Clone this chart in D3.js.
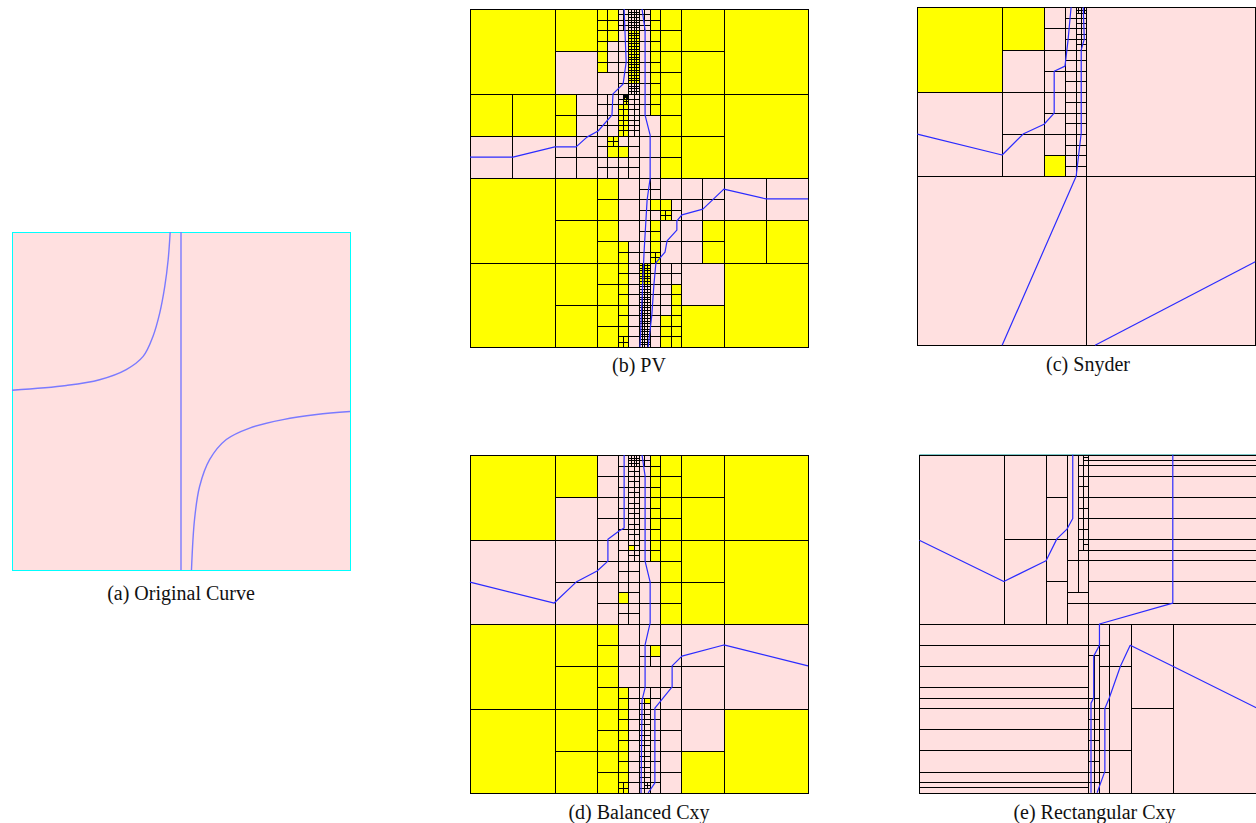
<!DOCTYPE html>
<html>
<head>
<meta charset="utf-8">
<script src="https://cdn.jsdelivr.net/npm/d3@7"></script>
<style>
  body { margin: 0; background: #fff; }
  svg { display: block; }
</style>
</head>
<body>
<svg id="fig" width="1256" height="823"></svg>
<script>
// ---------------------------------------------------------------------------
// Data
// ---------------------------------------------------------------------------

// Original implicit curve, sampled in unit coordinates (x right, y down).
const curveLeftBranch  = [[0,0.468],[0.161,0.454],[0.259,0.437],[0.338,0.407],[0.388,0.368],
                          [0.417,0.309],[0.437,0.24],[0.452,0.161],[0.462,0.082],[0.468,0]];
const curveRightBranch = [[0.531,1],[0.54,0.851],[0.555,0.753],[0.585,0.673],[0.634,0.614],
                          [0.703,0.580],[0.802,0.555],[0.901,0.540],[1,0.531]];
const curveVertical    = [[0.5,0],[0.5,1]];

// Quadtree subdivisions, serialised depth-first (children: TL, TR, BL, BR).
// S = split, Y = yellow leaf, P = pink leaf,
// 1 / 2 = pink cell split uniformly 1 / 2 levels, y / z = same for yellow.
const pvTree = [
  "S",
  "S Y (S Y (S y (S 1 2 1 2) (S Y Y Y P) (S P z P z)) P (S (S Y P Y P) (S P z P z) P (S P z P 2)))" +
  " (S Y Y P P) (S (S Y P Y P) (S 1 (S (S P z P y) 1 y 1) 1 (S y 1 y 1)) 1 (S (S P y P Y) (S P P Y P) 1 1))",
  "S (S (S (S 1 Y 1 Y) Y (S P Y P Y) Y) Y (S (S P Y P Y) Y (S P Y P Y) Y) Y) Y" +
  " (S (S (S P Y P Y) Y P Y) Y (S P Y P Y) Y) Y",
  "S Y (S Y (S Y P Y P) Y (S Y P Y (S Y P Y P))) Y" +
  " (S Y (S Y (S Y P Y P) Y (S Y P Y P)) Y (S Y (S Y P Y P) Y (S Y P y P)))",
  "S (S (S 1 P (S P Y P P) (S Y P y P)) 1 (S (S P Y P Y) P (S P Y P y) P) (S P Y P Y))" +
  " (S P P Y Y) (S (S (S z P z P) 1 (S 2 P 2 P) (S P Y P Y)) P" +
  " (S (S 2 P 2 P) (S P Y Y Y) (S 2 P 2 P) y) Y) Y"
];

const snyderTree = [
  "S",
  "S Y (S Y (S P (S P (S 1 1 P P) P 1) P (S P 1 P 1)) P (S P 1 P 1)) P (S P (S P 1 P 1) P (S P 1 Y 1))",
  "P", "P", "P"
];

const balancedTree = [
  "S",
  "S Y (S Y (S P (S P 2 P 1) P (S P 1 P 1)) P (S P (S P 1 P 1) P (S P 1 P 1))) P" +
  " (S P (S P (S P (S P P Y P) P 1) P 1) P (S P (S P P Y P) P 1))",
  "S (S (S (S 1 Y P Y) Y (S P Y P Y) Y) Y (S (S P Y P Y) Y (S P Y P Y) Y) Y) Y" +
  " (S (S (S P Y P Y) Y P Y) Y (S P Y P Y) Y) Y",
  "S Y (S Y (S Y P Y P) Y (S Y P Y (S Y P Y P))) Y" +
  " (S Y (S Y (S Y P Y P) Y (S Y P Y P)) Y (S Y (S Y P Y P) Y (S Y P y P)))",
  "S (S (S P P (S P Y P P) P) P (S P P (S P P (S P Y P P) P) P) P) P" +
  " (S (S (S 1 P 1 P) P (S 1 P 1 P) P) P (S (S 1 P 1 P) P (S 1 P (S P 1 P P) P) P) Y) Y"
];

// Rectangular Cxy cells, [x0, y0, x1, y1] on a 64 x 64 grid.
const rectUpperLeftCells = [
  [0,0,16,32],
  [16,0,24,16],[16,16,24,32],
  [24,0,28,8],[24,8,28,16],[24,16,28,24],[24,24,28,32],
  [28,0,30,20],[28,20,30,26],[28,26,32,28],[28,28,32,32],
  [30,0,31,2],[30,2,31,4],[30,4,31,6],[30,6,31,8],[30,8,31,10],[30,10,31,12],
  [30,12,31,14],[30,14,31,16],[30,16,31,18],
  [31,0,32,0.5],[31,0.5,32,1],[31,1,32,2],[31,2,32,4],[31,4,32,6],[31,6,32,8],
  [31,8,32,10],[31,10,32,12],[31,12,32,14],[31,14,32,16],[31,16,32,17],[31,17,32,18],
  [30,18,32,20],[30,20,32,26]
];
const rectUpperRightRows = [0,1,2,4,8,12,16,18,20,24,28,32];      // strips over x 32..64
const rectLowerLeftRows  = [32,36,40,44,46,48,52,56,60,62,63,64];  // strips over x 0..32
const rectLowerRightCells = [
  [32,32,36,36],[32,36,34,38],[34,36,36,40],[32,38,33,46],[33,38,34,46],[34,40,36,48],
  [32,46,33,48],[33,46,34,48],
  [32,48,33,50],[33,48,34,50],[32,50,33,52],[33,50,34,52],[32,52,33,54],[33,52,34,54],
  [32,54,33,56],[33,54,34,56],[32,56,33,58],[33,56,34,58],[32,58,33,60],[33,58,34,60],
  [32,60,33,62],[33,60,34,62],[32,62,33,64],[33,62,34,64],
  [34,48,36,52],[34,52,36,56],[34,56,36,60],[34,60,36,64],
  [36,32,40,40],[36,40,40,56],[36,56,40,64],
  [40,32,48,48],[40,48,48,64],
  [48,32,64,64]
];

// Piecewise-linear approximations, unit coordinates.
const pvLines = [
  [[0.456,0],[0.462,0.157],[0.453,0.222],[0.423,0.251],[0.420,0.314],[0.379,0.361],
   [0.346,0.379],[0.314,0.408],[0.251,0.408],[0.127,0.438],[0,0.438]],
  [[0.509,0],[0.518,0.062],[0.518,0.314],[0.533,0.373],[0.533,0.5],[0.524,0.565],
   [0.515,0.719],[0.509,0.861],[0.503,1]],
  [[1,0.562],[0.876,0.562],[0.751,0.533],[0.689,0.592],[0.627,0.609],[0.612,0.627],
   [0.612,0.654],[0.583,0.686],[0.577,0.719],[0.550,0.751],[0.544,0.817],[0.538,0.905],[0.527,1]]
];
const snyderLines = [
  [[0.455,0],[0.446,0.097],[0.437,0.174],[0.405,0.189],[0.405,0.313],[0.375,0.346],
   [0.313,0.375],[0.251,0.437],[0,0.375]],
  [[0.491,0],[0.494,0.094],[0.485,0.126],[0.485,0.372],[0.470,0.5],[0.251,1]],
  [[0.526,1],[1,0.753]]
];
const balancedLines = [
  [[0.456,0],[0.456,0.216],[0.441,0.225],[0.408,0.249],[0.408,0.314],[0.376,0.343],
   [0.314,0.376],[0.249,0.438],[0,0.376]],
  [[0.509,0],[0.518,0.062],[0.518,0.314],[0.533,0.376],[0.533,0.497],[0.518,0.562],
   [0.518,0.689],[0.509,0.725],[0.506,1]],
  [[1,0.624],[0.751,0.562],[0.627,0.595],[0.598,0.624],[0.598,0.686],[0.547,0.749],
   [0.547,0.970],[0.527,1]]
];
const rectLines = [
  [[0.454,0],[0.454,0.189],[0.437,0.220],[0.407,0.249],[0.375,0.314],[0.250,0.375],[0,0.253]],
  [[0.750,0],[0.750,0.439],[0.533,0.501],[0.533,0.564],[0.516,0.596],[0.516,0.720],
   [0.508,0.735],[0.508,1]],
  [[1,0.75],[0.750,0.626],[0.624,0.564],[0.595,0.626],[0.562,0.720],[0.549,0.751],
   [0.549,0.937],[0.526,1]]
];

const captions = ["(a) Original Curve","(b) PV","(c) Snyder","(d) Balanced Cxy","(e) Rectangular Cxy"];

// ---------------------------------------------------------------------------
// Drawing
// ---------------------------------------------------------------------------
const PINK = "#ffe0e0", YELLOW = "#ffff00", EDGE = "#000", INK = "#2b2bff",
      CURVE = "#7a7aff";
const SIZE = 338;

const svg = d3.select("#fig");
svg.append("rect").attr("width", 1256).attr("height", 823).attr("fill", "#fff");

function expandTree(parts) {
  const s = parts.join("").replace(/[\s()]/g, "");
  let i = 0;
  const out = [];
  function uniform(x, y, size, levels, kind) {
    if (levels === 0) { out.push({x, y, size, kind}); return; }
    const h = size / 2;
    uniform(x, y, h, levels - 1, kind);
    uniform(x + h, y, h, levels - 1, kind);
    uniform(x, y + h, h, levels - 1, kind);
    uniform(x + h, y + h, h, levels - 1, kind);
  }
  function node(x, y, size) {
    const c = s[i++];
    switch (c) {
      case "S": {
        const h = size / 2;
        node(x, y, h); node(x + h, y, h); node(x, y + h, h); node(x + h, y + h, h);
        break;
      }
      case "Y": out.push({x, y, size, kind: "Y"}); break;
      case "P": out.push({x, y, size, kind: "P"}); break;
      case "1": uniform(x, y, size, 1, "P"); break;
      case "2": uniform(x, y, size, 2, "P"); break;
      case "y": uniform(x, y, size, 1, "Y"); break;
      case "z": uniform(x, y, size, 2, "Y"); break;
      default: throw new Error("unexpected token " + c + " at " + i);
    }
  }
  node(0, 0, 1);
  if (i !== s.length) throw new Error("unused tokens: " + (s.length - i));
  return out.map(d => ({x0: d.x, y0: d.y, x1: d.x + d.size, y1: d.y + d.size, kind: d.kind}));
}

function makePanel(x0, y0, domainMax) {
  const sx = d3.scaleLinear().domain([0, domainMax]).range([x0, x0 + SIZE]);
  const sy = d3.scaleLinear().domain([0, domainMax]).range([y0, y0 + SIZE]);
  const g = svg.append("g");
  return {g, sx, sy};
}

const snap = v => Math.round(v) + 0.5;

function drawCells(panel, cells) {
  const {g, sx, sy} = panel;
  g.append("g").selectAll("rect").data(cells).join("rect")
    .attr("x", d => snap(sx(d.x0)))
    .attr("y", d => snap(sy(d.y0)))
    .attr("width", d => snap(sx(d.x1)) - snap(sx(d.x0)))
    .attr("height", d => snap(sy(d.y1)) - snap(sy(d.y0)))
    .attr("fill", d => d.kind === "Y" ? YELLOW : PINK)
    .attr("stroke", EDGE)
    .attr("stroke-width", 1);
}

function drawLines(panel, lines, color, width, curve) {
  const ux = d3.scaleLinear().domain([0, 1]).range(panel.sx.range());
  const uy = d3.scaleLinear().domain([0, 1]).range(panel.sy.range());
  const line = d3.line().x(d => ux(d[0])).y(d => uy(d[1])).curve(curve || d3.curveLinear);
  panel.g.append("g").selectAll("path").data(lines).join("path")
    .attr("d", line)
    .attr("fill", "none")
    .attr("stroke", color)
    .attr("stroke-width", width)
    .attr("stroke-linejoin", "round");
}

function caption(text, cx, baseline) {
  svg.append("text")
    .attr("x", cx).attr("y", baseline)
    .attr("text-anchor", "middle")
    .attr("font-family", "'Liberation Serif', 'Times New Roman', serif")
    .attr("font-size", 20)
    .attr("fill", "#111")
    .text(text);
}

// (a) original curve
{
  const p = makePanel(12, 232, 1);
  p.g.append("rect")
    .attr("x", p.sx(0) + 0.5).attr("y", p.sy(0) + 0.5)
    .attr("width", SIZE).attr("height", SIZE)
    .attr("fill", PINK).attr("stroke", "#00ffff").attr("stroke-width", 1);
  drawLines(p, [curveLeftBranch, curveRightBranch, curveVertical], CURVE, 1.4, d3.curveCatmullRom);
  caption(captions[0], 181, 599.5);
}

// (b) PV
{
  const p = makePanel(470, 9, 1);
  drawCells(p, expandTree(pvTree));
  drawLines(p, pvLines, INK, 1.2);
  caption(captions[1], 639, 372);
}

// (c) Snyder
{
  const p = makePanel(917.3, 7.3, 1);
  drawCells(p, expandTree(snyderTree));
  drawLines(p, snyderLines, INK, 1.2);
  caption(captions[2], 1088, 370.5);
}

// (d) Balanced Cxy
{
  const p = makePanel(470, 455, 1);
  drawCells(p, expandTree(balancedTree));
  drawLines(p, balancedLines, INK, 1.2);
  caption(captions[3], 639, 818.5);
}

// (e) Rectangular Cxy
{
  const p = makePanel(919.3, 454.7, 64);
  const cells = [];
  rectUpperLeftCells.forEach(c => cells.push(c));
  for (let k = 0; k + 1 < rectUpperRightRows.length; k++)
    cells.push([32, rectUpperRightRows[k], 64, rectUpperRightRows[k + 1]]);
  for (let k = 0; k + 1 < rectLowerLeftRows.length; k++)
    cells.push([0, rectLowerLeftRows[k], 32, rectLowerLeftRows[k + 1]]);
  rectLowerRightCells.forEach(c => cells.push(c));
  drawCells(p, cells.map(c => ({x0: c[0], y0: c[1], x1: c[2], y1: c[3], kind: "P"})));
  // thin teal rule along the top edge of this panel
  p.g.append("line")
    .attr("x1", p.sx(0)).attr("x2", p.sx(64))
    .attr("y1", snap(p.sy(0)) - 1).attr("y2", snap(p.sy(0)) - 1)
    .attr("stroke", "#7fc8c8").attr("stroke-width", 1);
  drawLines(p, rectLines, INK, 1.2);
  caption(captions[4], 1094.5, 818.5);
}
</script>
</body>
</html>
